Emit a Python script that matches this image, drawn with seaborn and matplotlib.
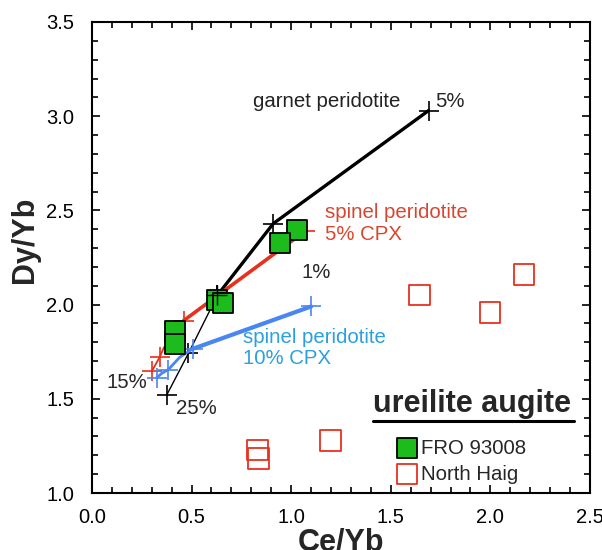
import numpy as np
import pandas as pd
import matplotlib
matplotlib.use("Agg")
import matplotlib.pyplot as plt
import seaborn as sns
from matplotlib.ticker import MultipleLocator, FormatStrFormatter

# --- melting model curves (Ce/Yb, Dy/Yb) ---
garnet_x = [1.69, 0.91, 0.63]
garnet_y = [3.03, 2.43, 2.05]
garnet_tail_x = [0.63, 0.484, 0.375]
garnet_tail_y = [2.05, 1.741, 1.52]

sp5_x = [1.07, 0.46]
sp5_y = [2.39, 1.915]
sp5_tail_x = [0.46, 0.42, 0.36, 0.341, 0.30]
sp5_tail_y = [1.915, 1.86, 1.77, 1.724, 1.645]

sp10_x = [1.10, 0.505]
sp10_y = [1.99, 1.765]
sp10_tail_x = [0.505, 0.44, 0.383, 0.35, 0.325]
sp10_tail_y = [1.765, 1.72, 1.655, 1.635, 1.612]

# --- ureilite augite data ---
fro_x = [1.03, 0.944, 0.626, 0.656, 0.417, 0.417]
fro_y = [2.395, 2.325, 2.024, 2.007, 1.860, 1.791]
haig_x = [1.643, 2.169, 1.998, 1.198, 0.830, 0.838]
haig_y = [2.051, 2.161, 1.959, 1.278, 1.228, 1.184]

RED = "#e8301c"
RED_TXT = "#d9462f"
BLUE = "#4a86f2"
BLUE_TXT = "#2aa0e0"
GREEN = "#1cbc1c"

sns.set_style("ticks")
plt.rcParams['font.family'] = ['Liberation Sans', 'DejaVu Sans']

fig = plt.figure(figsize=(6.02, 5.5), dpi=100)
ax = fig.add_axes([0.1528, 0.1036, 0.8272, 0.8564])

plus = dict(marker="+", markersize=14, markeredgewidth=1.2)

# model lines
sns.lineplot(x=garnet_x, y=garnet_y, sort=False, color="black", lw=2.4,
             markeredgecolor="black", ax=ax, zorder=2, **plus)
sns.lineplot(x=garnet_tail_x, y=garnet_tail_y, sort=False, color="black", lw=1.0,
             markeredgecolor="black", ax=ax, zorder=2, **plus)
sns.lineplot(x=sp5_x, y=sp5_y, sort=False, color=RED, lw=2.6,
             markeredgecolor=RED, ax=ax, zorder=2, **plus)
sns.lineplot(x=sp5_tail_x, y=sp5_tail_y, sort=False, color=RED, lw=1.3, ax=ax, zorder=2)
sns.lineplot(x=sp5_tail_x[3:], y=sp5_tail_y[3:], sort=False, color=RED, lw=0,
             markeredgecolor=RED, ax=ax, zorder=2, **plus)
sns.lineplot(x=sp10_x, y=sp10_y, sort=False, color=BLUE, lw=3.0,
             markeredgecolor=BLUE, ax=ax, zorder=2, **plus)
sns.lineplot(x=sp10_tail_x, y=sp10_tail_y, sort=False, color=BLUE, lw=2.0, ax=ax, zorder=2)
sns.lineplot(x=sp10_tail_x[2:3] + sp10_tail_x[4:], y=sp10_tail_y[2:3] + sp10_tail_y[4:],
             sort=False, color=BLUE, lw=0, markeredgecolor=BLUE, ax=ax, zorder=2, **plus)

# samples
sns.scatterplot(x=fro_x, y=fro_y, marker="s", s=215, color=GREEN,
                edgecolor="black", linewidth=1.3, ax=ax, zorder=3, label="FRO 93008")
sns.scatterplot(x=haig_x, y=haig_y, marker="s", s=225, facecolor="none",
                edgecolor=RED, linewidth=1.3, ax=ax, zorder=3, label="North Haig")

# plus marks sitting on top of the squares
ax.plot(garnet_x[2:], garnet_y[2:], "+", color="black", ms=14, mew=1.0, zorder=4)

ax.set_xlim(0, 2.5)
ax.set_ylim(1.0, 3.5)
ax.xaxis.set_major_locator(MultipleLocator(0.5))
ax.xaxis.set_minor_locator(MultipleLocator(0.1))
ax.yaxis.set_major_locator(MultipleLocator(0.5))
ax.yaxis.set_minor_locator(MultipleLocator(0.1))
ax.xaxis.set_major_formatter(FormatStrFormatter("%.1f"))
ax.yaxis.set_major_formatter(FormatStrFormatter("%.1f"))
ax.tick_params(which="both", direction="in", top=True, right=True, width=1.2,
               labelsize=14.5, colors="black")
ax.tick_params(which="major", length=6)
ax.tick_params(axis="x", which="major", pad=11)
ax.tick_params(axis="y", which="major", pad=13)
ax.tick_params(which="minor", length=4)
for s in ax.spines.values():
    s.set_linewidth(1.5)
    s.set_color("black")

ax.set_xlabel("Ce/Yb", fontsize=22, fontweight="bold", labelpad=0)
ax.set_ylabel("Dy/Yb", fontsize=22, fontweight="bold")
ax.yaxis.set_label_coords(-0.105, 0.537)

# annotations
fs = 14.7
ax.text(0.81, 3.08, "garnet peridotite", fontsize=fs, color="#222222", va="center")
ax.text(1.725, 3.08, "5%", fontsize=fs, va="center")
ax.text(1.17, 2.43, "spinel peridotite\n5% CPX", fontsize=fs, color=RED_TXT,
        va="center", linespacing=1.15)
ax.text(1.05, 2.168, "1%", fontsize=fs, va="center")
ax.text(0.76, 1.77, "spinel peridotite\n10% CPX", fontsize=fs, color=BLUE_TXT,
        va="center", linespacing=1.1)
ax.text(0.075, 1.584, "15%", fontsize=fs, va="center")
ax.text(0.42, 1.446, "25%", fontsize=fs, va="center")

# legend block
ax.text(1.41, 1.47, "ureilite augite", fontsize=22, fontweight="bold", va="center")
ax.plot([0.5635, 0.9675], [0.153, 0.153], color="black", lw=2.2,
        transform=ax.transAxes, clip_on=False)
ax.legend(loc="upper left", bbox_to_anchor=(0.591, 0.133), frameon=False,
          fontsize=14.7, handletextpad=0.1, borderaxespad=0, labelspacing=0.35,
          handlelength=1.2, markerscale=0.95)

fig.savefig("out.png", dpi=100)
